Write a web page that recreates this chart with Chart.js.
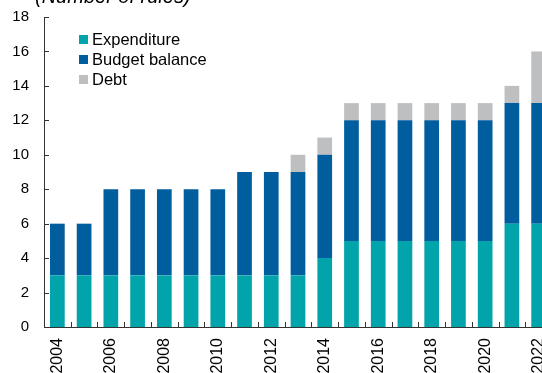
<!DOCTYPE html>
<html>
<head>
<meta charset="utf-8">
<script src="https://cdn.jsdelivr.net/npm/chart.js@4.4.1/dist/chart.umd.min.js"></script>
<style>
  html, body { margin: 0; padding: 0; background: #fff; overflow: hidden; }
  #wrap { position: absolute; left: 0; top: 0; width: 552px; height: 373px; }
</style>
</head>
<body>
<div id="wrap"><canvas id="c" width="552" height="373"></canvas></div>
<script>
// Fiscal rules in force, by type of rule
const years = ['2004','2005','2006','2007','2008','2009','2010','2011','2012','2013',
               '2014','2015','2016','2017','2018','2019','2020','2021','2022'];
const expenditure   = [3,3,3,3,3,3,3,3,3,3,4,5,5,5,5,5,5,6,6];
const budgetBalance = [3,3,5,5,5,5,5,6,6,6,6,7,7,7,7,7,7,7,7];
const debt          = [0,0,0,0,0,0,0,0,0,1,1,1,1,1,1,1,1,1,3];
const yTicks = [0,2,4,6,8,10,12,14,16,18];
const unitsLabel = '(Number of rules)';

const FONT = "'Liberation Sans', Arial, sans-serif";
const AXIS_COLOR = '#333333';

// Small inward tick marks on both axes
const innerTicks = {
  id: 'innerTicks',
  afterDatasetsDraw(chart) {
    const { ctx, chartArea, scales: { x, y } } = chart;
    ctx.save();
    ctx.strokeStyle = AXIS_COLOR;
    ctx.lineWidth = 1;
    ctx.beginPath();
    y.ticks.forEach(t => {
      const py = Math.round(y.getPixelForValue(t.value)) + 0.5;
      ctx.moveTo(chartArea.left, py);
      ctx.lineTo(chartArea.left + 5, py);
    });
    const half = (x.getPixelForValue(1) - x.getPixelForValue(0)) / 2;
    for (let i = 1; i < years.length; i++) {
      const px = Math.round(x.getPixelForValue(i) - half) + 0.5;
      ctx.moveTo(px, chartArea.bottom);
      ctx.lineTo(px, chartArea.bottom - 5);
    }
    ctx.stroke();
    ctx.restore();
  }
};

// Units caption and the legend box inside the plot
const captionAndLegend = {
  id: 'captionAndLegend',
  afterDraw(chart) {
    const { ctx } = chart;
    ctx.save();
    ctx.fillStyle = '#000';
    ctx.font = 'italic 20px ' + FONT;
    ctx.textBaseline = 'alphabetic';
    ctx.textAlign = 'left';
    ctx.fillText(unitsLabel, 35, 3);

    ctx.font = '16.5px ' + FONT;
    ctx.textBaseline = 'middle';
    chart.data.datasets.forEach((ds, i) => {
      const cy = 39.5 + i * 20;
      ctx.fillStyle = ds.backgroundColor;
      ctx.fillRect(79, cy - 4.5, 9, 9);
      ctx.fillStyle = '#000';
      ctx.fillText(ds.label, 92, cy + 1);
    });
    ctx.restore();
  }
};

new Chart(document.getElementById('c'), {
  type: 'bar',
  data: {
    labels: years,
    datasets: [
      { label: 'Expenditure',    data: expenditure,   backgroundColor: '#00A4AA' },
      { label: 'Budget balance', data: budgetBalance, backgroundColor: '#005E9E' },
      { label: 'Debt',           data: debt,          backgroundColor: '#BEBFC1' }
    ]
  },
  options: {
    responsive: false,
    animation: false,
    layout: { padding: { top: 17, left: 0, right: 0, bottom: 0 } },
    datasets: {
      bar: {
        categoryPercentage: 1,
        barPercentage: 0.55,
        borderWidth: 0
      }
    },
    plugins: {
      legend: { display: false },
      tooltip: { enabled: false },
      title: { display: false }
    },
    scales: {
      x: {
        stacked: true,
        grid: { display: false, drawTicks: false },
        border: { display: true, color: AXIS_COLOR, width: 1 },
        ticks: {
          autoSkip: false,
          maxRotation: 90,
          minRotation: 90,
          padding: 11,
          color: '#000',
          font: { family: FONT, size: 16 },
          callback: (v, i) => (i % 2 === 0 ? years[i] : '')
        },
        afterFit: s => { s.height = 46; s.paddingLeft = 0; s.paddingRight = 0; }
      },
      y: {
        stacked: true,
        min: 0,
        max: 18,
        afterBuildTicks: s => { s.ticks = yTicks.map(v => ({ value: v })); },
        grid: { display: false, drawTicks: false },
        border: { display: true, color: AXIS_COLOR, width: 1 },
        ticks: {
          padding: 15,
          color: '#000',
          font: { family: FONT, size: 15 }
        },
        afterFit: s => { s.width = 44; s.paddingTop = 0; s.paddingBottom = 0; }
      }
    }
  },
  plugins: [innerTicks, captionAndLegend]
});
</script>
</body>
</html>
